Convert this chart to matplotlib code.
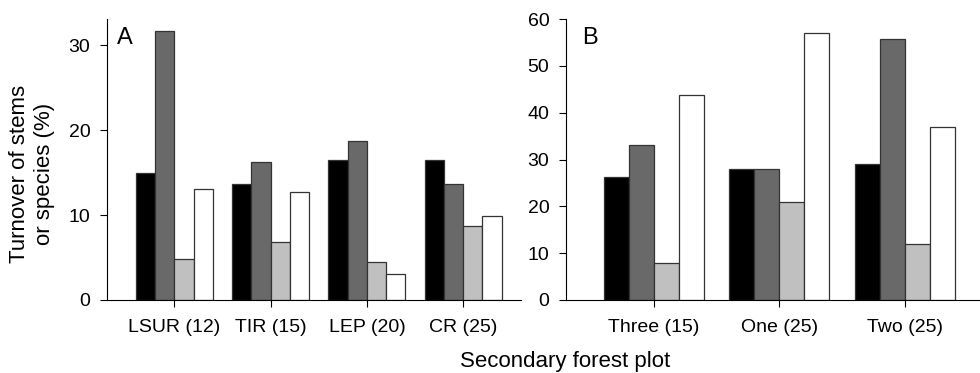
import matplotlib.pyplot as plt
import numpy as np

plt.rcParams['font.family'] = ['Liberation Sans', 'DejaVu Sans']

# Panel A: secondary forest plots (age in years)
plots_a = ['LSUR (12)', 'TIR (15)', 'LEP (20)', 'CR (25)']
black_a = [15.0, 13.6, 16.5, 16.5]
dark_a = [31.7, 16.2, 18.7, 13.6]
light_a = [4.8, 6.8, 4.5, 8.75]
white_a = [13.1, 12.7, 3.05, 9.9]

# Panel B
plots_b = ['Three (15)', 'One (25)', 'Two (25)']
black_b = [26.3, 27.9, 29.0]
dark_b = [33.0, 27.9, 55.8]
light_b = [8.0, 21.0, 12.0]
white_b = [43.8, 57.0, 36.9]

colors = ['#000000', '#696969', '#c0c0c0', '#ffffff']
w = 0.2


def draw_panel(ax, labels, series, letter, ymax, yticks, lx):
    x = np.arange(len(labels))
    for k, vals in enumerate(series):
        ax.bar(x + (k - 1.5) * w, vals, w, color=colors[k],
               edgecolor='#333333', linewidth=0.9)
    ax.set_xticks(x)
    ax.set_xticklabels(labels, fontsize=14)
    ax.set_yticks(yticks)
    ax.tick_params(axis='y', labelsize=14, length=5, pad=7)
    ax.tick_params(axis='x', length=5, pad=9)
    ax.set_xlim(-0.70, len(labels) - 1 + 0.60)
    ax.set_ylim(0, ymax)
    ax.spines['top'].set_visible(False)
    ax.spines['right'].set_visible(False)
    ax.text(lx, 0.97, letter, transform=ax.transAxes, fontsize=17,
            va='top', ha='left')


fig = plt.figure(figsize=(9.8, 3.73), dpi=100)
ax_a = fig.add_axes([107 / 980, 73 / 373, (521 - 107) / 980, 281 / 373])
ax_b = fig.add_axes([566 / 980, 73 / 373, (980 - 566) / 980, 281 / 373])

draw_panel(ax_a, plots_a, [black_a, dark_a, light_a, white_a], 'A', 33.06, [0, 10, 20, 30], 0.025)
draw_panel(ax_b, plots_b, [black_b, dark_b, light_b, white_b], 'B', 60, [0, 10, 20, 30, 40, 50, 60], 0.038)

fig.text(32 / 980, 1 - 174 / 373, 'Turnover of stems\nor species (%)', rotation=90,
         ha='center', va='center', fontsize=16, multialignment='center')
fig.text(565 / 980, 1 - 361 / 373, 'Secondary forest plot', ha='center', va='center',
         fontsize=16)

fig.savefig('out.png', dpi=100)
